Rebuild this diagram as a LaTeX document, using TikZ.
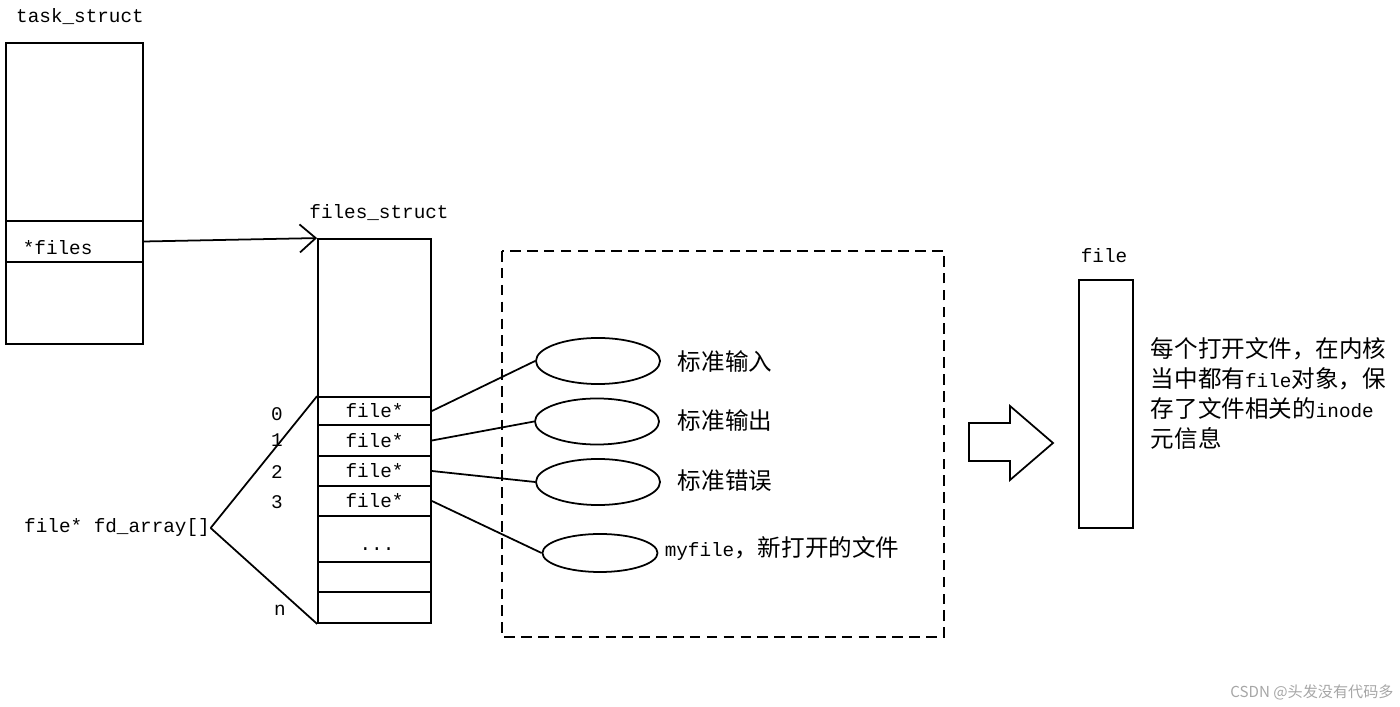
\documentclass[tikz,border=0pt]{standalone}
\usepackage{fontspec}
\setmainfont{Noto Sans CJK SC}
\setmonofont{Liberation Mono}[Scale=0.82]
\usepackage{tikz}
\usetikzlibrary{shapes.geometric, arrows.meta, positioning}

\begin{document}
\begin{tikzpicture}[x=0.01cm, y=-0.01cm, line width=0.5pt]
    \tikzstyle{cell}=[draw, inner sep=0pt, minimum width=1.13cm,
                      font=\fontsize{6.7pt}{8pt}\selectfont\ttfamily]
    \tikzstyle{code}=[inner sep=0pt, font=\fontsize{6.7pt}{8pt}\selectfont\ttfamily]
    \tikzstyle{cn}=[inner sep=0pt, font=\fontsize{6.7pt}{8pt}\selectfont]
    \tikzstyle{oval}=[draw, ellipse, inner sep=0pt, minimum width=1.24cm, minimum height=0.46cm]
    \tikzstyle{arr}=[-{Straight Barb[length=1.6mm, width=2.8mm]}]

    \useasboundingbox (0,0) rectangle (1400,707);

    % task_struct
    \node[code] (tsname) at (80,17) {task\_struct};
    \node[cell, minimum width=1.37cm, minimum height=1.78cm] (tstop)   at (74.5,132)   {};
    \node[cell, minimum width=1.37cm, minimum height=0.41cm] (tsfiles) at (74.5,241.5) {};
    \node[cell, minimum width=1.37cm, minimum height=0.82cm] (tsbot)   at (74.5,303)   {};
    \node[code, anchor=west] (files) at (22,248) {*files};

    % files_struct
    \node[code] (fsname) at (379,213) {files\_struct};
    \node[cell, minimum height=1.58cm] (fstop)  at (374.5,318)   {};
    \node[cell, minimum height=0.28cm] (fd0)    at (374.5,411)   {file*};
    \node[cell, minimum height=0.31cm] (fd1)    at (374.5,440.5) {file*};
    \node[cell, minimum height=0.30cm] (fd2)    at (374.5,471)   {file*};
    \node[cell, minimum height=0.30cm] (fd3)    at (374.5,501)   {file*};
    \node[cell, minimum height=0.46cm] (fddots) at (374.5,539)   {};
    \node[cell, minimum height=0.30cm] (fd5)    at (374.5,577)   {};
    \node[cell, minimum height=0.31cm] (fdn)    at (374.5,607.5) {};
    \node[code] (dots) at (377,549) {...};

    \draw[arr] (tsfiles.east) -- (fstop.north west);

    % indices
    \node[code] (i0) at (277,414) {0};
    \node[code] (i1) at (277,440) {1};
    \node[code] (i2) at (277,472) {2};
    \node[code] (i3) at (277,502) {3};
    \node[code] (in) at (280,610) {n};

    \node[code] (fdarr) at (117,528) {file* fd\_array[]};
    \draw (fdarr.east) -- (fd0.north west);
    \draw (fdarr.east) -- (fdn.south west);

    % open files
    \draw[dash pattern=on 3pt off 1.8pt] (502,251) rectangle (944,637);

    \node[oval] (std0) at (598,361)   {};
    \node[oval] (std1) at (597,421.5) {};
    \node[oval] (std2) at (598,482)   {};
    \node[oval, minimum width=1.15cm, minimum height=0.38cm] (myf) at (600,553) {};

    \node[cn] (l0) at (725,362) {标准输入};
    \node[cn] (l1) at (725,421) {标准输出};
    \node[cn] (l2) at (725,481) {标准错误};
    \node[cn] (l3) at (782,549) {{\ttfamily myfile}，新打开的文件};

    \draw (fd0.east) -- (std0.west);
    \draw (fd1.east) -- (std1.west);
    \draw (fd2.east) -- (std2.west);
    \draw (fd3.east) -- (myf.west);

    % big arrow
    \draw (969,423) -- (1010,423) -- (1010,406) -- (1053,443) -- (1010,480) -- (1010,461) -- (969,461) -- cycle;

    % file object
    \node[code] (fname) at (1104,256) {file};
    \node[cell, minimum width=0.54cm, minimum height=2.48cm] (fobj) at (1106,404) {};

    \node[cn, anchor=north west, align=left, font=\fontsize{6.7pt}{8.5pt}\selectfont] (note) at (1150,337)
        {每个打开文件，在内核\\当中都有{\ttfamily file}对象，保\\存了文件相关的{\ttfamily inode}\\元信息};

    \node[cn, text=gray!70, font=\fontsize{4.3pt}{5pt}\selectfont] (mark) at (1312,692) {CSDN @头发没有代码多};
\end{tikzpicture}
\end{document}
